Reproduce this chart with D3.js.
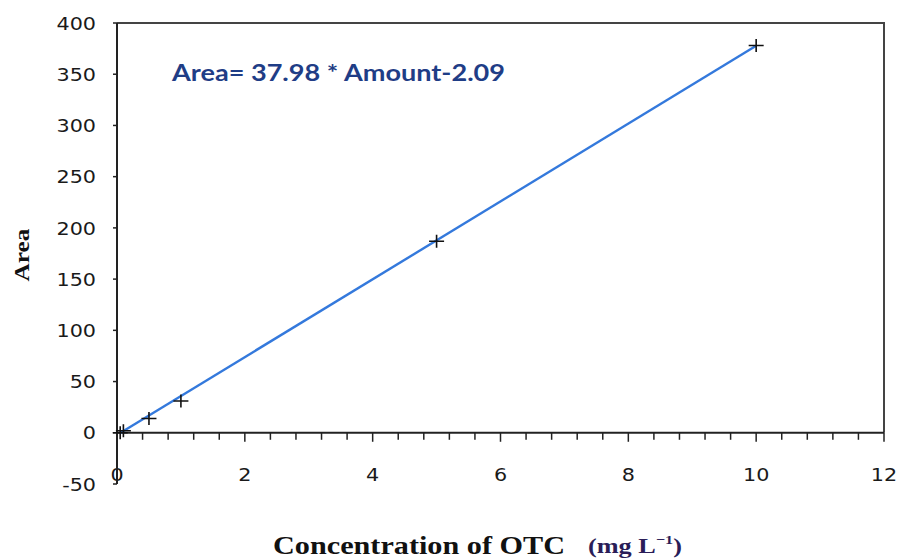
<!DOCTYPE html>
<html><head><meta charset="utf-8">
<script src="https://cdn.jsdelivr.net/npm/d3@7"></script>
<style>html,body{margin:0;padding:0;background:#fff;}svg{display:block;}</style>
</head><body>
<svg id="chart" width="902" height="558"></svg>
<script>
const concentrations = [0.05, 0.1, 0.5, 1, 5, 10];
const areas = [0, 2, 14, 31, 187, 378];
const slope = 37.98;
const intercept = -2.09;
const xTicks = [0, 2, 4, 6, 8, 10, 12];
const yTicks = [-50, 0, 50, 100, 150, 200, 250, 300, 350, 400];
const equationText = "Area= 37.98 * Amount-2.09";

const SX = 1.12; // horizontal stretch of the original picture's text
const tickFont = "'DejaVu Sans', Verdana, sans-serif";

const svg = d3.select("#chart");
const x = d3.scaleLinear().domain([0, 12]).range([117, 884]);
const y = d3.scaleLinear().domain([-50, 400]).range([484, 23]);

// frame: top + right borders
svg.append("path")
  .attr("d", `M${x(0)},${y(400)}H${x(12)}V${y(0)}`)
  .attr("fill", "none").attr("stroke", "#444").attr("stroke-width", 2);

// x axis at y=0 with minor ticks
const minor = d3.range(0, 12.0001, 0.4).filter(v => Math.abs(v/2 - Math.round(v/2)) > 1e-6);
const xAxisG = svg.append("g").attr("transform", `translate(0,${y(0)})`);
xAxisG.append("line").attr("x1", x(0)).attr("x2", x(12)).attr("stroke", "#222").attr("stroke-width", 2);
xAxisG.selectAll(".minor").data(minor).join("line")
  .attr("x1", d => x(d)).attr("x2", d => x(d)).attr("y1", 0).attr("y2", 7)
  .attr("stroke", "#222").attr("stroke-width", 1.5);
xAxisG.selectAll(".major").data(xTicks).join("line")
  .attr("x1", d => x(d)).attr("x2", d => x(d)).attr("y1", 0).attr("y2", 9)
  .attr("stroke", "#222").attr("stroke-width", 1.5);

// x tick labels
svg.append("g").selectAll("text").data(xTicks).join("text")
  .attr("transform", d => `translate(${x(d)},481) scale(${SX},1)`)
  .attr("text-anchor", "middle")
  .attr("font-family", tickFont)
  .attr("font-size", 18.5).attr("fill", "#1a1a1a")
  .text(d => d);

// y axis
svg.append("line").attr("x1", x(0)).attr("x2", x(0)).attr("y1", y(400)).attr("y2", y(-50))
  .attr("stroke", "#222").attr("stroke-width", 2);
svg.append("g").selectAll("line").data(yTicks).join("line")
  .attr("x1", x(0) - 4).attr("x2", x(0)).attr("y1", d => y(d)).attr("y2", d => y(d))
  .attr("stroke", "#222").attr("stroke-width", 1.5);
svg.append("g").selectAll("text").data(yTicks).join("text")
  .attr("transform", d => `translate(96,${y(d)}) scale(${SX},1)`)
  .attr("dy", "0.36em")
  .attr("text-anchor", "end")
  .attr("font-family", tickFont)
  .attr("font-size", 18.5).attr("fill", "#1a1a1a")
  .text(d => d);

// regression line
const xmin = d3.min(concentrations), xmax = d3.max(concentrations);
svg.append("line")
  .attr("x1", x(xmin)).attr("y1", y(slope * xmin + intercept))
  .attr("x2", x(xmax)).attr("y2", y(slope * xmax + intercept))
  .attr("stroke", "#3479dc").attr("stroke-width", 2.4);

// markers
const pts = concentrations.map((c, i) => ({c, a: areas[i]}));
svg.append("g").selectAll("path").data(pts).join("path")
  .attr("d", d => `M${x(d.c)-7.5},${y(d.a)}h15M${x(d.c)},${y(d.a)-6.5}v13`)
  .attr("stroke", "#111").attr("stroke-width", 1.6).attr("fill", "none");

// equation
svg.append("text").attr("x", 172).attr("y", 81)
  .attr("font-family", "Lato, 'Open Sans', sans-serif").attr("font-weight", "bold")
  .attr("font-size", 22.5).attr("fill", "#1f3d86")
  .attr("textLength", 333).attr("lengthAdjust", "spacingAndGlyphs")
  .text(equationText);

// x title
svg.append("text").attr("x", 273).attr("y", 554)
  .attr("font-family", "'Liberation Serif', 'Times New Roman', serif").attr("font-weight", "bold")
  .attr("font-size", 25).attr("fill", "#111")
  .attr("textLength", 292).attr("lengthAdjust", "spacingAndGlyphs")
  .text("Concentration of OTC");
const unit = svg.append("text").attr("transform", `translate(588,553) scale(1.25,1)`)
  .attr("font-family", "'Liberation Serif', 'Times New Roman', serif").attr("font-weight", "bold")
  .attr("fill", "#2a1d58");
unit.append("tspan").attr("font-size", 21).text("(mg L");
unit.append("tspan").attr("font-size", 13).attr("dy", -9).text("−1");
unit.append("tspan").attr("font-size", 21).attr("dy", 9).text(")");

// y title
svg.append("text")
  .attr("transform", "translate(29,255) rotate(-90)")
  .attr("text-anchor", "middle")
  .attr("font-family", "'Liberation Serif', 'Times New Roman', serif").attr("font-weight", "bold")
  .attr("font-size", 22).attr("fill", "#111")
  .attr("textLength", 53).attr("lengthAdjust", "spacingAndGlyphs")
  .text("Area");
</script>
</body></html>
